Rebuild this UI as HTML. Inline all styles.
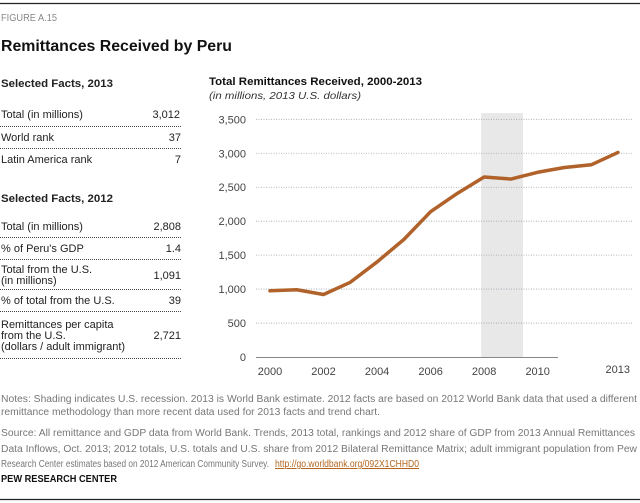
<!DOCTYPE html>
<html><head><meta charset="utf-8"><style>
html,body{margin:0;padding:0;background:#fff;}
svg{display:block;font-family:"Liberation Sans",Arial,sans-serif;}
</style></head><body>
<svg id="fig" width="640" height="503" viewBox="0 0 640 503">
<line x1="0" y1="3.5" x2="640" y2="3.5" stroke="#222" stroke-width="1.2"/>
<text x="1" y="21" font-size="10.5" fill="#888" textLength="56" lengthAdjust="spacingAndGlyphs">FIGURE A.15</text>
<text x="1" y="51" font-size="15.5" font-weight="bold" fill="#111" textLength="231" lengthAdjust="spacingAndGlyphs">Remittances Received by Peru</text>

<g font-size="11" fill="#222">
<text x="1" y="87" font-weight="bold" textLength="112" lengthAdjust="spacingAndGlyphs">Selected Facts, 2013</text>
<text x="1" y="118">Total (in millions)</text><text x="180" y="118" text-anchor="end">3,012</text>
<text x="1" y="141">World rank</text><text x="181" y="141" text-anchor="end">37</text>
<text x="1" y="163">Latin America rank</text><text x="181" y="163" text-anchor="end">7</text>
<text x="1" y="202" font-weight="bold" textLength="112" lengthAdjust="spacingAndGlyphs">Selected Facts, 2012</text>
<text x="1" y="230">Total (in millions)</text><text x="181" y="230" text-anchor="end">2,808</text>
<text x="1" y="252">% of Peru's GDP</text><text x="181" y="252" text-anchor="end">1.4</text>
<text x="1" y="273">Total from the U.S.</text><text x="1" y="284">(in millions)</text><text x="181" y="279" text-anchor="end">1,091</text>
<text x="1" y="304">% of total from the U.S.</text><text x="181" y="304" text-anchor="end">39</text>
<text x="1" y="328">Remittances per capita</text><text x="1" y="339">from the U.S.</text><text x="1" y="350">(dollars / adult immigrant)</text><text x="181" y="339" text-anchor="end">2,721</text>
<g stroke="#444" stroke-width="1" stroke-dasharray="1,1">
<line x1="0" y1="126.5" x2="182" y2="126.5"/><line x1="0" y1="148.5" x2="182" y2="148.5"/>
<line x1="0" y1="237.5" x2="182" y2="237.5"/><line x1="0" y1="259.5" x2="182" y2="259.5"/>
<line x1="0" y1="289.5" x2="182" y2="289.5"/><line x1="0" y1="311.5" x2="182" y2="311.5"/>
<line x1="0" y1="358.5" x2="182" y2="358.5"/>
</g>
</g>

<text x="209" y="85" font-size="11" font-weight="bold" fill="#111" textLength="213" lengthAdjust="spacingAndGlyphs">Total Remittances Received, 2000-2013</text>
<text x="209" y="99" font-size="10.5" font-style="italic" fill="#333" textLength="152" lengthAdjust="spacingAndGlyphs">(in millions, 2013 U.S. dollars)</text>
<g id="chart"></g>

<g font-size="10" fill="#777">
<text x="1" y="402" textLength="636" lengthAdjust="spacingAndGlyphs">Notes: Shading indicates U.S. recession. 2013 is World Bank estimate. 2012 facts are based on 2012 World Bank data that used a different</text>
<text x="1" y="415" textLength="379" lengthAdjust="spacingAndGlyphs">remittance methodology than more recent data used for 2013 facts and trend chart.</text>
<text x="1" y="436" textLength="634" lengthAdjust="spacingAndGlyphs">Source: All remittance and GDP data from World Bank. Trends, 2013 total, rankings and 2012 share of GDP from 2013 Annual Remittances</text>
<text x="1" y="452" textLength="636" lengthAdjust="spacingAndGlyphs">Data Inflows, Oct. 2013;  2012 totals, U.S. totals and U.S. share from 2012 Bilateral Remittance Matrix; adult immigrant population from Pew</text>
<text x="1" y="467" textLength="268" lengthAdjust="spacingAndGlyphs">Research Center estimates based on 2012 American Community Survey.</text>
<text x="275" y="467" fill="#b5651d" text-decoration="underline" textLength="144" lengthAdjust="spacingAndGlyphs">http://go.worldbank.org/092X1CHHD0</text>
</g>
<text x="1" y="482" font-size="10" font-weight="bold" fill="#111" textLength="116" lengthAdjust="spacingAndGlyphs">PEW RESEARCH CENTER</text>
<line x1="0" y1="499.5" x2="640" y2="499.5" stroke="#222" stroke-width="1.2"/>
</svg>
<script>
const years = [2000,2001,2002,2003,2004,2005,2006,2007,2008,2009,2010,2011,2012,2013];
const values = [975,990,920,1100,1400,1730,2140,2410,2650,2620,2720,2790,2830,3012];
const yTicks = [0,500,1000,1500,2000,2500,3000,3500];
const xTickYears = [2000,2002,2004,2006,2008,2010,2013];
const recession = [2008,2009.45];

const NS="http://www.w3.org/2000/svg";
const g=document.getElementById('chart');
const xS=y=>270+(y-2000)*(618-270)/13;
const yS=v=>357-v*(357-119.3)/3500;
function mk(t,a){const e=document.createElementNS(NS,t);for(const k in a)e.setAttribute(k,a[k]);g.appendChild(e);return e;}
const sh=mk('rect',{x:xS(recession[0])-3,y:113,width:xS(recession[1])-xS(recession[0])+3,height:244,fill:'#e8e8e8'});


yTicks.forEach(t=>{
  if(t>0){const l=mk('line',{x1:256,x2:632,y1:yS(t),y2:yS(t),stroke:'#9aa4b0','stroke-width':0.8,'stroke-dasharray':'1,1.5'});
  
  }
  const tx=mk('text',{x:246,y:yS(t)+4,'text-anchor':'end','font-size':11,fill:'#444'});
  tx.textContent=t.toLocaleString('en-US');
  
  
});
const ax=mk('line',{x1:256,x2:558,y1:357.5,y2:357.5,stroke:'#888','stroke-width':1});


xTickYears.forEach(y=>{
  const last=y===2013;
  const tx=mk('text',{x:last?xS(y)+12:xS(y),y:last?373:375,'text-anchor':last?'end':'middle','font-size':11,fill:'#444'});
  tx.textContent=y;
  
  
});
const p=mk('polyline',{points:years.map((y,i)=>xS(y)+','+yS(values[i])).join(' '),fill:'none',stroke:'#b0622a','stroke-width':3.5,'stroke-linejoin':'round','stroke-linecap':'round'});


</script>
</body></html>
